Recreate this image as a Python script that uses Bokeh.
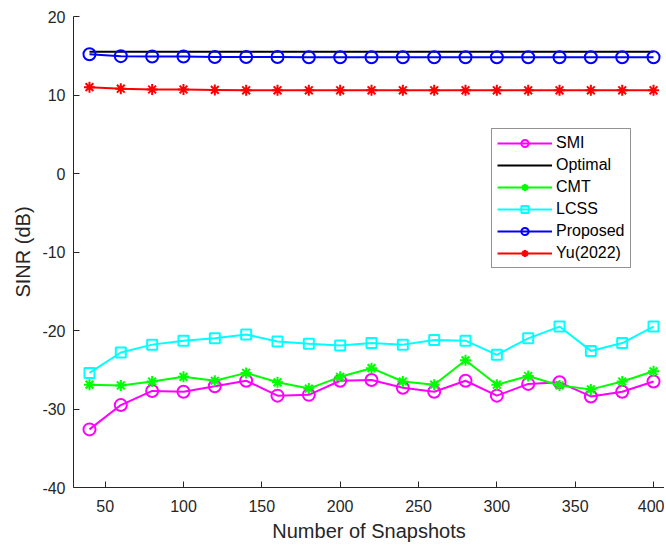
from bokeh.plotting import figure
from bokeh.models import Range1d, FixedTicker, Legend, LegendItem, CustomJSTickFormatter
from bokeh.embed import file_html
from bokeh.resources import INLINE

snapshots = [40, 60, 80, 100, 120, 140, 160, 180, 200, 220, 240, 260, 280, 300, 320, 340, 360, 380, 400]

smi = [-32.6, -29.5, -27.7, -27.8, -27.1, -26.4, -28.3, -28.2, -26.4, -26.3, -27.3, -27.8, -26.4,
       -28.3, -26.8, -26.6, -28.4, -27.8, -26.5]
optimal = [15.5] * 19
cmt = [-26.9, -27.0, -26.5, -25.9, -26.4, -25.4, -26.6, -27.4, -25.9, -24.8, -26.5, -26.9, -23.8,
       -26.9, -25.8, -27.0, -27.5, -26.5, -25.2]
lcss = [-25.4, -22.8, -21.8, -21.3, -21.0, -20.5, -21.4, -21.7, -21.9, -21.6, -21.8, -21.2, -21.3,
        -23.1, -21.0, -19.5, -22.6, -21.6, -19.5]
proposed = [15.2, 14.95, 14.9, 14.9, 14.85, 14.85, 14.85, 14.8, 14.8, 14.8, 14.8, 14.8, 14.8,
            14.8, 14.8, 14.8, 14.8, 14.8, 14.8]
yu = [11.0, 10.8, 10.7, 10.7, 10.65, 10.6, 10.6, 10.6, 10.6, 10.6, 10.6, 10.6, 10.6,
      10.6, 10.6, 10.6, 10.6, 10.6, 10.6]

x_ticks = [50, 100, 150, 200, 250, 300, 350, 400]
y_ticks = [-40, -30, -20, -10, 0, 10, 20]

FONT = "Liberation Sans"
TXT = "#262626"

p = figure(width=664, height=544, output_backend="svg", toolbar_location=None,
           x_range=Range1d(29.8, 407.0), y_range=Range1d(-40, 20),
           min_border_left=73, min_border_top=16, min_border_right=0, min_border_bottom=57)
p.outline_line_color = None
p.xgrid.grid_line_color = None
p.ygrid.grid_line_color = None
p.background_fill_color = "white"

for ax in (p.xaxis[0], p.yaxis[0]):
    ax.axis_line_color = TXT
    ax.axis_line_width = 1
    ax.major_tick_line_color = TXT
    ax.major_tick_in = 6
    ax.major_tick_out = 0
    ax.minor_tick_line_color = None
    ax.major_label_text_font = FONT
    ax.major_label_text_font_size = "16px"
    ax.major_label_text_color = TXT
    ax.axis_label_text_font = FONT
    ax.axis_label_text_font_size = "20px"
    ax.axis_label_text_font_style = "normal"
    ax.axis_label_text_color = TXT
    ax.formatter = CustomJSTickFormatter(code="return String(tick);")

p.xaxis.ticker = FixedTicker(ticks=x_ticks)
p.yaxis.ticker = FixedTicker(ticks=y_ticks)
p.xaxis.axis_label = "Number of Snapshots"
p.yaxis.axis_label = "SINR (dB)"
p.xaxis.major_label_standoff = 12
p.yaxis.major_label_standoff = 8
p.xaxis.axis_label_standoff = 5
p.yaxis.axis_label_standoff = 5

series = [
    ("SMI", smi, "#FF00FF", "circle", 12),
    ("Optimal", optimal, "#000000", None, 0),
    ("CMT", cmt, "#00FF00", "asterisk", 11),
    ("LCSS", lcss, "#00FFFF", "square", 10),
    ("Proposed", proposed, "#0000FF", "circle", 12),
    ("Yu(2022)", yu, "#FF0000", "asterisk", 11),
]

items = []
for name, ys, color, marker, size in series:
    r = [p.line(snapshots, ys, line_color=color, line_width=2)]
    if marker:
        r.append(p.scatter(snapshots, ys, marker=marker, size=size, line_color=color,
                           fill_color=None, line_width=2))
    items.append(LegendItem(label=name, renderers=r))

legend = Legend(items=items, location=(418, 219))
legend.label_text_font = FONT
legend.label_text_font_size = "16px"
legend.label_text_color = "#000000"
legend.border_line_color = "#262626"
legend.border_line_width = 1
legend.background_fill_color = "white"
legend.background_fill_alpha = 1
legend.glyph_width = 55
legend.glyph_height = 18
legend.label_height = 18
legend.spacing = 4
legend.padding = 5
legend.margin = 0
legend.label_standoff = 4
p.add_layout(legend, "center")

open("out.html", "w").write(file_html(p, INLINE))
